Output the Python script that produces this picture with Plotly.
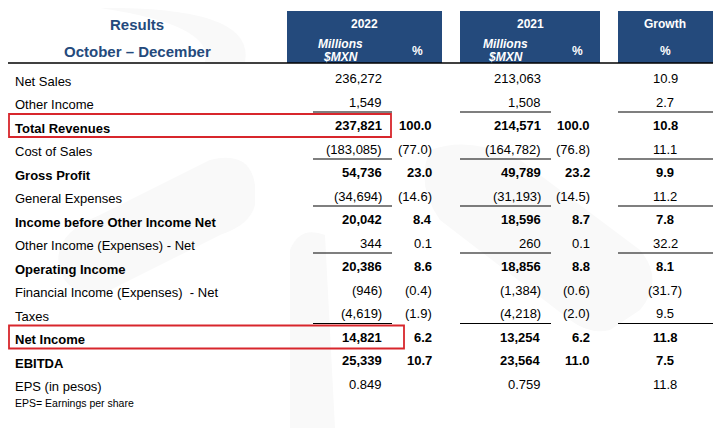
import plotly.graph_objects as go

# rows of the quarterly results table
labels = [
    "Net Sales", "Other Income", "Total Revenues", "Cost of Sales", "Gross Profit",
    "General Expenses", "Income before Other Income Net", "Other Income (Expenses) - Net",
    "Operating Income", "Financial Income (Expenses)  - Net", "Taxes", "Net Income",
    "EBITDA", "EPS (in pesos)",
]
bold_rows = [2, 4, 6, 8, 11, 12]
underline_after = [1, 3, 5, 7, 10]
boxed_rows = [2, 11]

val_2022 = ["236,272", "1,549", "237,821", "(183,085)", "54,736", "(34,694)", "20,042",
            "344", "20,386", "(946)", "(4,619)", "14,821", "25,339", "0.849"]
pct_2022 = ["", "", "100.0", "(77.0)", "23.0", "(14.6)", "8.4",
            "0.1", "8.6", "(0.4)", "(1.9)", "6.2", "10.7", ""]
val_2021 = ["213,063", "1,508", "214,571", "(164,782)", "49,789", "(31,193)", "18,596",
            "260", "18,856", "(1,384)", "(4,218)", "13,254", "23,564", "0.759"]
pct_2021 = ["", "", "100.0", "(76.8)", "23.2", "(14.5)", "8.7",
            "0.1", "8.8", "(0.6)", "(2.0)", "6.2", "11.0", ""]
growth = ["10.9", "2.7", "10.8", "11.1", "9.9", "11.2", "7.8",
          "32.2", "8.1", "(31.7)", "9.5", "11.8", "7.5", "11.8"]

title_lines = ["Results", "October \u2013 December"]
footnote = "EPS= Earnings per share"

FONT = "Arial, Liberation Sans, sans-serif"
NAVY = "#244a7c"
RED = "#d8262c"

# the page body has an 8px margin, so the figure starts at (8, 8) of the window
PAD = 8
W, H = 721, 428

row_y0, row_step = 81, 23.5
def ry(i):
    return row_y0 + i * row_step

fig = go.Figure()
fig.add_trace(go.Scatter(x=[PAD, W], y=[PAD, H], mode="markers",
                         marker=dict(opacity=0), hoverinfo="skip", showlegend=False))

shapes = []
ann = []

def text(x, y, s, anchor="left", size=13, color="black"):
    ann.append(dict(x=x, y=y, xref="x", yref="y", text=s, showarrow=False,
                    xanchor=anchor, yanchor="middle",
                    font=dict(family=FONT, size=size, color=color)))

# very faint watermark shapes in the background
WM = "#f9f9f9"
shapes.append(dict(type="path", layer="below", line=dict(width=0), fillcolor=WM,
                   path="M 120 8 Q 255 10 245 62 L 205 62 Q 215 25 100 8 Z"))
shapes.append(dict(type="path", layer="below", line=dict(width=0), fillcolor=WM,
                   path="M 60 270 Q 50 235 100 215 L 210 160 Q 250 150 255 185 "
                        "L 255 205 Q 250 225 220 235 L 110 290 Q 70 300 60 270 Z"))
shapes.append(dict(type="path", layer="below", line=dict(width=0), fillcolor=WM,
                   path="M 430 150 Q 470 135 520 160 L 640 250 Q 665 280 640 310 "
                        "L 610 330 Q 590 335 570 320 L 440 220 Q 415 185 430 150 Z"))
shapes.append(dict(type="path", layer="below", line=dict(width=0), fillcolor=WM,
                   path="M 290 250 Q 300 225 325 235 L 335 428 L 290 428 Z"))

# header boxes
header_boxes = [(287, 442), (460, 600), (618, 713)]
for x0, x1 in header_boxes:
    shapes.append(dict(type="rect", x0=x0, x1=x1, y0=11, y1=63,
                       fillcolor=NAVY, line=dict(width=0)))
shapes.append(dict(type="line", x0=5, x1=713, y0=63, y1=63,
                   line=dict(color="black", width=1.5)))

text(137, 24, "<b>" + title_lines[0] + "</b>", "center", 15, NAVY)
text(137, 51, "<b>" + title_lines[1] + "</b>", "center", 15, NAVY)

for year, xc_year, xc_mil, xc_pct in [("2022", 364, 340, 417), ("2021", 530, 505, 577)]:
    text(xc_year, 24, "<b>" + year + "</b>", "center", 12, "white")
    text(xc_mil, 44, "<b><i>Millions</i></b>", "center", 12, "white")
    text(xc_mil, 57, "<b><i>$MXN</i></b>", "center", 12, "white")
    text(xc_pct, 51, "<b>%</b>", "center", 12, "white")
text(665, 24, "<b>Growth</b>", "center", 12, "white")
text(665, 51, "<b>%</b>", "center", 12, "white")

# body cells
columns = [(val_2022, 384, "right"), (pct_2022, 434, "right"),
           (val_2021, 543, "right"), (pct_2021, 592, "right"),
           (growth, 665, "center")]
for i, lab in enumerate(labels):
    y = ry(i)
    b = i in bold_rows
    wrap = (lambda s: "<b>" + s + "</b>") if b else (lambda s: s)
    text(13, y, wrap(lab))
    for vals, x, anchor in columns:
        if vals[i]:
            text(x, y - 2.5, wrap(vals[i]), anchor)

# sub-total rules
for i in underline_after:
    y = ry(i) + 7.5
    for x0, x1 in [(313, 392), (460, 551), (618, 713)]:
        shapes.append(dict(type="line", x0=x0, x1=x1, y0=y, y1=y,
                           line=dict(color="black", width=1.2)))

# highlighted rows
for i, x1 in zip(boxed_rows, [391, 404]):
    y = ry(i)
    shapes.append(dict(type="rect", x0=9, x1=x1, y0=y - 14, y1=y + 9,
                       line=dict(color=RED, width=1.8), fillcolor="rgba(0,0,0,0)"))

text(13, 403, footnote, "left", 10.5)

fig.update_layout(
    width=W - PAD, height=H - PAD, margin=dict(l=0, r=0, t=0, b=0),
    paper_bgcolor="white", plot_bgcolor="white",
    xaxis=dict(range=[PAD, W], visible=False, fixedrange=True),
    yaxis=dict(range=[H, PAD], visible=False, fixedrange=True),
    shapes=shapes, annotations=ann, showlegend=False,
)

fig.write_html("out.html")
